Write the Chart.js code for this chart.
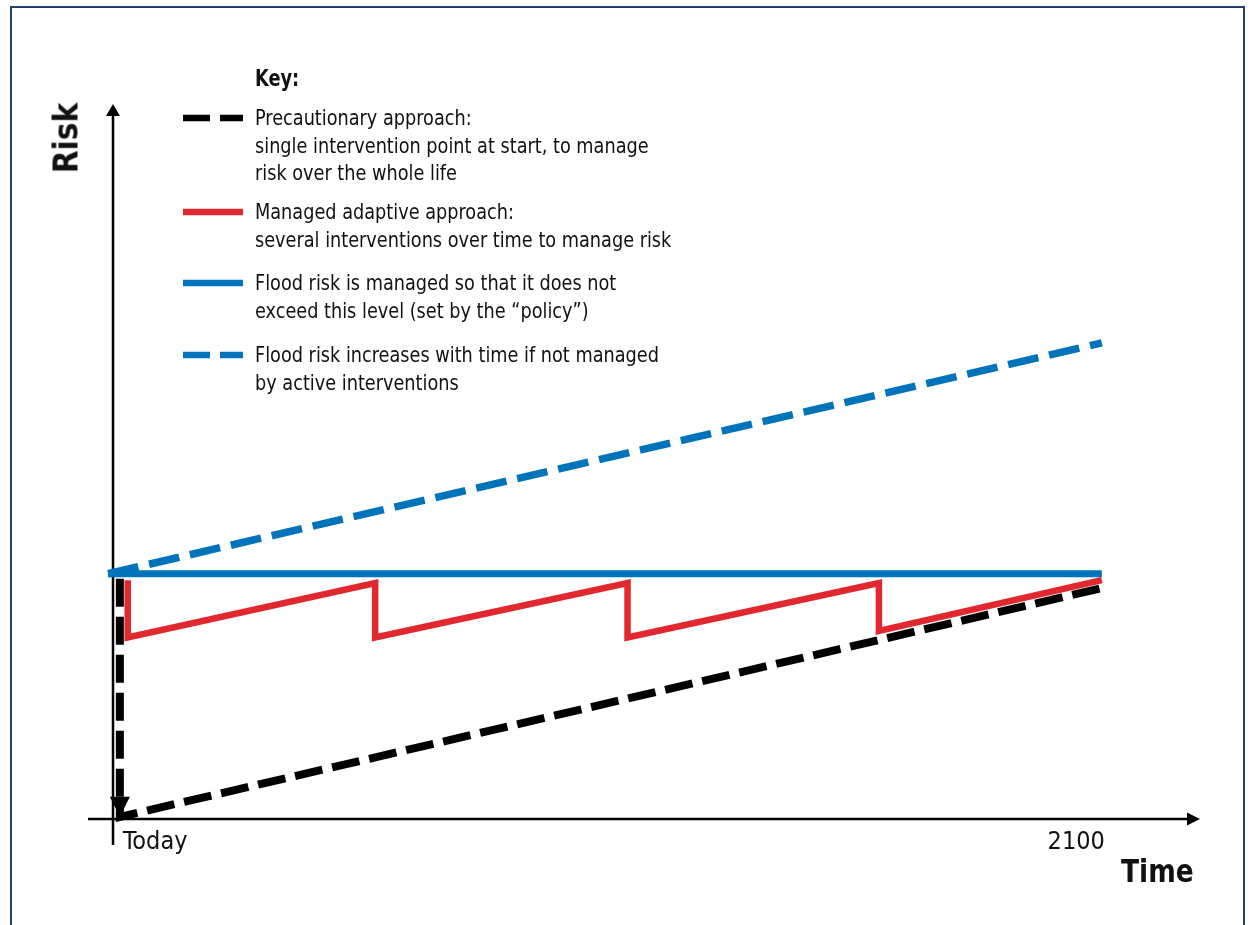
<!DOCTYPE html>
<html>
<head>
<meta charset="utf-8">
<title>Flood risk over time</title>
<script src="https://cdn.jsdelivr.net/npm/chart.js@4.4.1/dist/chart.umd.min.js"></script>
<style>
  html, body { margin: 0; padding: 0; background: #fff; }
  #wrap {
    position: relative; width: 1252px; height: 925px; overflow: hidden;
    font-family: 'Liberation Sans Narrow', 'Arial Narrow', 'DejaVu Sans Condensed', sans-serif;
    color: #111;
  }
  #frame {
    position: absolute; left: 10px; top: 6px; width: 1235px; height: 960px;
    border: 2px solid #23406a; box-sizing: border-box;
  }
  #chart { position: absolute; left: 0; top: 0; }
  .heading { position: absolute; font-weight: bold; line-height: 1; white-space: nowrap; }
  #risk { left: 66px; top: 138px; font-size: 33px; transform: translate(-50%, -50%) rotate(-90deg); }
  #time { left: 1121px; top: 855px; font-size: 32px; transform: scaleX(0.92); transform-origin: left top; }
  #key { position: absolute; left: 0; top: 0; }
  #key .title {
    position: absolute; left: 255px; top: 67px; font-weight: bold; font-size: 23px; line-height: 1;
    transform: scaleX(0.86); transform-origin: left top;
  }
  #key .item {
    position: absolute; left: 255px; font-size: 21.5px; line-height: 27.5px; white-space: nowrap;
    transform: scaleX(0.915); transform-origin: left top;
  }
  #key svg { position: absolute; left: 0; top: 0; overflow: visible; }
</style>
</head>
<body>
<div id="wrap">
  <div id="frame"></div>
  <canvas id="chart" width="1252" height="925"></canvas>
  <div class="heading" id="risk">Risk</div>
  <div class="heading" id="time">Time</div>
  <div id="key"></div>
</div>
<script>
// ---- data (x: 0 = Today, 100 = 2100; y: relative risk) ----
const TICK_VALUES = [0, 100];
const TICK_LABELS = ['Today', '2100'];

const POLICY_X = [-1.2, 100];
const POLICY_Y = [34.3, 34.3];

const UNMANAGED_X = [-1.2, 100];
const UNMANAGED_Y = [34.3, 66.6];

const ADAPTIVE_X = [0.8, 0.8, 26.0, 26.0, 51.7, 51.7, 77.3, 77.3, 100];
const ADAPTIVE_Y = [33.4, 25.4, 33.0, 25.4, 33.0, 25.4, 33.0, 26.3, 33.4];

const PRECAUTION_X = [0, 0, 100];
const PRECAUTION_Y = [33.6, 0.3, 32.3];

const KEY_LINES = [
  ['Precautionary approach:', 'single intervention point at start, to manage', 'risk over the whole life'],
  ['Managed adaptive approach:', 'several interventions over time to manage risk'],
  ['Flood risk is managed so that it does not', 'exceed this level (set by the \u201cpolicy\u201d)'],
  ['Flood risk increases with time if not managed', 'by active interventions'],
];

const COLORS = {
  black: '#000000',
  red:   '#e1282e',
  blue:  '#0073ba',
};

const pts = (xs, ys) => xs.map((x, i) => ({ x, y: ys[i] }));

// ---- axes with arrow heads, tick labels, precautionary arrow ----
const axesPlugin = {
  id: 'axesPlugin',
  beforeDatasetsDraw(chart) {
    const { ctx, chartArea: a } = chart;
    ctx.save();
    ctx.strokeStyle = '#000';
    ctx.fillStyle = '#000';
    ctx.lineWidth = 2.5;
    // y axis
    ctx.beginPath();
    ctx.moveTo(a.left, a.top + 8);
    ctx.lineTo(a.left, a.bottom + 26);
    ctx.stroke();
    ctx.beginPath();
    ctx.moveTo(a.left, a.top);
    ctx.lineTo(a.left - 7, a.top + 12);
    ctx.lineTo(a.left + 7, a.top + 12);
    ctx.closePath();
    ctx.fill();
    // x axis
    ctx.beginPath();
    ctx.moveTo(a.left - 25, a.bottom);
    ctx.lineTo(a.right - 8, a.bottom);
    ctx.stroke();
    ctx.beginPath();
    ctx.moveTo(a.right, a.bottom);
    ctx.lineTo(a.right - 13, a.bottom - 6.5);
    ctx.lineTo(a.right - 13, a.bottom + 6.5);
    ctx.closePath();
    ctx.fill();
    // tick labels
    const xs = chart.scales.x;
    ctx.font = "25px 'Liberation Sans Narrow', 'Arial Narrow', 'DejaVu Sans Condensed', sans-serif";
    ctx.fillStyle = '#111';
    ctx.textBaseline = 'alphabetic';
    TICK_VALUES.forEach((v, i) => {
      const px = xs.getPixelForValue(v);
      ctx.textAlign = i === 0 ? 'left' : 'right';
      ctx.fillText(TICK_LABELS[i], px + 3, a.bottom + 30);
    });
    ctx.restore();
  },
  afterDatasetsDraw(chart) {
    // arrow head at the foot of the precautionary drop
    const { ctx } = chart;
    const px = chart.scales.x.getPixelForValue(PRECAUTION_X[1]);
    const py = chart.scales.y.getPixelForValue(PRECAUTION_Y[1]);
    ctx.save();
    ctx.fillStyle = COLORS.black;
    ctx.beginPath();
    ctx.moveTo(px, py);
    ctx.lineTo(px - 10, py - 20);
    ctx.lineTo(px + 10, py - 20);
    ctx.closePath();
    ctx.fill();
    ctx.restore();
  }
};

new Chart(document.getElementById('chart'), {
  type: 'line',
  data: {
    datasets: [
      { label: 'Unmanaged', data: pts(UNMANAGED_X, UNMANAGED_Y), borderColor: COLORS.blue, borderWidth: 7.5, borderDash: [31, 11] },
      { label: 'Policy', data: pts(POLICY_X, POLICY_Y), borderColor: COLORS.blue, borderWidth: 7 },
      { label: 'Adaptive', data: pts(ADAPTIVE_X, ADAPTIVE_Y), borderColor: COLORS.red, borderWidth: 6.5, borderJoinStyle: 'miter' },
      { label: 'Precautionary', data: pts(PRECAUTION_X, PRECAUTION_Y), borderColor: COLORS.black, borderWidth: 8, borderDash: [28, 10] },
    ]
  },
  options: {
    responsive: false,
    animation: false,
    layout: { padding: { left: 113, right: 52, top: 104, bottom: 106 } },
    elements: {
      point: { radius: 0, hoverRadius: 0 },
      line: { tension: 0, borderCapStyle: 'butt', fill: false }
    },
    datasets: { line: { clip: false } },
    plugins: { legend: { display: false }, tooltip: { enabled: false } },
    events: [],
    scales: {
      x: { type: 'linear', min: -0.7, max: 110, display: false },
      y: { type: 'linear', min: 0, max: 100, display: false }
    }
  },
  plugins: [axesPlugin]
});

// ---- key ----
const KEY_SWATCH = [
  { color: COLORS.black, dash: '27 10' },
  { color: COLORS.red, dash: null },
  { color: COLORS.blue, dash: null },
  { color: COLORS.blue, dash: '27 10' },
];
const KEY_TOPS = [104, 198, 269, 341];

const key = document.getElementById('key');
key.innerHTML = '<div class="title">Key:</div>';
let svg = '<svg width="1252" height="925">';
KEY_LINES.forEach((lines, i) => {
  const top = KEY_TOPS[i];
  const div = document.createElement('div');
  div.className = 'item';
  div.style.top = top + 'px';
  div.innerHTML = lines.join('<br>');
  key.appendChild(div);
  const y = top + 14;
  const s = KEY_SWATCH[i];
  svg += `<line x1="183" y1="${y}" x2="243" y2="${y}" stroke="${s.color}" stroke-width="6.5"` +
         (s.dash ? ` stroke-dasharray="${s.dash}"` : '') + '/>';
});
svg += '</svg>';
key.insertAdjacentHTML('afterbegin', svg);
</script>
</body>
</html>
